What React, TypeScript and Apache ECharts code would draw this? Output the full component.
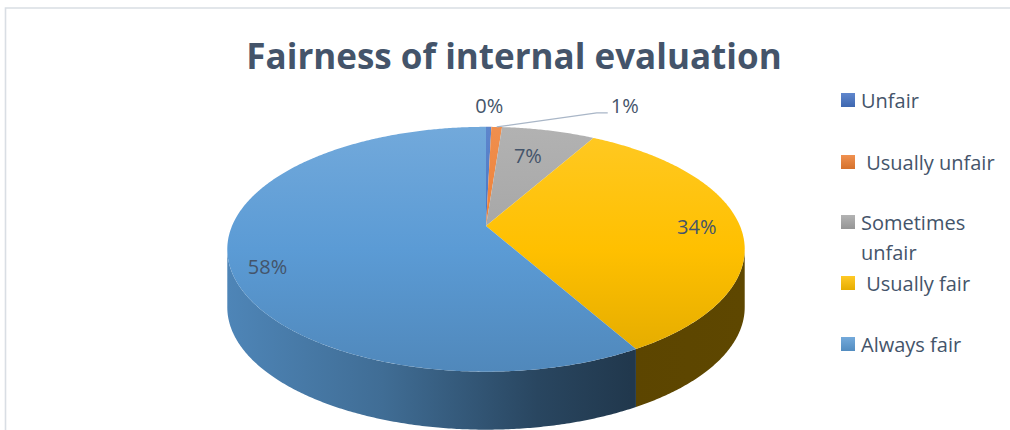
import React, { useEffect, useRef } from "react";
import * as echarts from "echarts";

const TITLE = "Fairness of internal evaluation";
const CATEGORIES = ["Unfair", "Usually unfair", "Sometimes unfair", "Usually fair", "Always fair"];
const LEGEND_LABELS = ["Unfair", " Usually unfair", "Sometimes\nunfair", " Usually fair", "Always fair"];
const VALUES = [0.4, 0.8, 7.0, 33.6, 58.2];
const COLORS = ["#4472C4", "#ED7D31", "#A5A5A5", "#FFC000", "#5B9BD5"];

// geometry of the tilted pie (perspective projection of a flat disc)
const PIE = { cx: 486, cy: 226, a: 254, b: 118, k: 0.19, depth: 58 };
// label placement: angle shift (deg) and radius factor, or leader
const LABEL_LAYOUT = [
  { dTheta: 0, f: 1.27, leader: false },
  { dTheta: 0, f: 1.0, leader: true },
  { dTheta: -1.5, f: 0.7, leader: false },
  { dTheta: 0, f: 0.83, leader: false },
  { dTheta: -7.2, f: 0.87, leader: false },
];
const TEXT_COLOR = "#44546A";
const FONT = "'Open Sans', 'Noto Sans', sans-serif";

const TAU = Math.PI * 2;

function proj(theta: number, f: number): [number, number] {
  const u = f * Math.sin(theta);
  const v = f * Math.cos(theta);
  const w = 1 + PIE.k * v;
  return [PIE.cx + (PIE.a * u) / w, PIE.cy - (PIE.b * v) / w];
}

function arcPts(t1: number, t2: number, dy = 0): number[][] {
  const n = Math.max(2, Math.ceil((t2 - t1) / (Math.PI / 360)));
  const pts: number[][] = [];
  for (let i = 0; i <= n; i++) {
    const t = t1 + ((t2 - t1) * i) / n;
    const p = proj(t, 1);
    pts.push([p[0], p[1] + dy]);
  }
  return pts;
}

function hexRgb(hex: string): number[] {
  const h = hex.replace("#", "");
  return [0, 2, 4].map((i) => parseInt(h.slice(i, i + 2), 16));
}
function scaleC(hex: string, f: number): string {
  const [r, g, b] = hexRgb(hex);
  const c = (x: number) => Math.max(0, Math.min(255, Math.round(x * f)));
  return `rgb(${c(r)},${c(g)},${c(b)})`;
}
function tintC(hex: string, t: number): string {
  const [r, g, b] = hexRgb(hex);
  const c = (x: number) => Math.round(x + (255 - x) * t);
  return `rgb(${c(r)},${c(g)},${c(b)})`;
}

const TOTAL = VALUES.reduce((s, v) => s + v, 0);
const CUM: number[] = [];
VALUES.reduce((s, v, i) => {
  CUM[i] = s;
  return s + v;
}, 0);

export default function App() {
  const ref = useRef<HTMLDivElement>(null);
  useEffect(() => {
    if (!ref.current) return;
    const chart = echarts.init(ref.current, undefined, { renderer: "svg" });

    const topY = proj(0, 1)[1];
    const botY = proj(Math.PI, 1)[1];
    const ext = PIE.a / Math.sqrt(1 - PIE.k * PIE.k);
    const leftX = PIE.cx - ext;
    const rightX = PIE.cx + ext;
    const visA = Math.acos(-PIE.k);
    const visB = TAU - visA;

    const renderItem = (params: any, api: any) => {
      const i = params.dataIndex;
      const val = api.value(0);
      const t1 = (CUM[i] / TOTAL) * TAU;
      const t2 = ((CUM[i] + val) / TOTAL) * TAU;
      const color = COLORS[i];
      const children: any[] = [];

      // side wall
      const s1 = Math.max(t1, visA);
      const s2 = Math.min(t2, visB);
      if (s2 > s1) {
        const top = arcPts(s1, s2, 0);
        const bot = arcPts(s1, s2, PIE.depth).reverse();
        children.push({
          type: "polygon",
          shape: { points: top.concat(bot) },
          style: {
            fill: new echarts.graphic.LinearGradient(
              leftX,
              0,
              rightX,
              0,
              [
                { offset: 0, color: scaleC(color, 0.86) },
                { offset: 0.3, color: scaleC(color, 0.7) },
                { offset: 0.6, color: scaleC(color, 0.45) },
                { offset: 0.78, color: scaleC(color, 0.36) },
                { offset: 1, color: scaleC(color, 0.37) },
              ],
              true
            ),
            stroke: null,
          },
        });
      }

      // top face
      const pts = [[PIE.cx, PIE.cy]].concat(arcPts(t1, t2, 0));
      children.push({
        type: "polygon",
        shape: { points: pts },
        style: {
          fill: new echarts.graphic.LinearGradient(
            0,
            topY,
            0,
            botY,
            [
              { offset: 0, color: tintC(color, 0.14) },
              { offset: 0.5, color: color },
              { offset: 1, color: scaleC(color, 0.88) },
            ],
            true
          ),
          stroke: null,
        },
      });

      // label
      const pct = Math.round((val / TOTAL) * 100) + "%";
      const lay = LABEL_LAYOUT[i];
      const mid = (t1 + t2) / 2 + (lay.dTheta * Math.PI) / 180;
      if (lay.leader) {
        const p0 = proj(mid, 1.0);
        const p1 = [p0[0] + 100, p0[1] - 14];
        const p2 = [p1[0] + 11, p1[1]];
        children.push({
          type: "polyline",
          shape: { points: [p0, p1, p2] },
          style: { stroke: "#A9B6C7", lineWidth: 1.3, fill: null },
        });
        children.push({
          type: "text",
          x: p2[0] + 3,
          y: p2[1] - 7,
          style: {
            text: pct,
            fill: TEXT_COLOR,
            fontSize: 20,
            fontFamily: FONT,
            align: "left",
            verticalAlign: "middle",
            textAlign: "left",
            textVerticalAlign: "middle",
          },
        });
      } else {
        const p = proj(mid, lay.f);
        children.push({
          type: "text",
          x: p[0],
          y: p[1],
          style: {
            text: pct,
            fill: TEXT_COLOR,
            fontSize: 20,
            fontFamily: FONT,
            align: "center",
            verticalAlign: "middle",
            textAlign: "center",
            textVerticalAlign: "middle",
          },
        });
      }
      return { type: "group", children };
    };

    // legend (graphic)
    const LEG_X = 841;
    const LEG_Y = [100, 162, 222, 283, 344];
    const legend: any[] = [];
    CATEGORIES.forEach((_, i) => {
      legend.push({
        type: "rect",
        shape: { x: LEG_X, y: LEG_Y[i] - 7, width: 14, height: 14 },
        style: {
          fill: new echarts.graphic.LinearGradient(0, 0, 0, 1, [
            { offset: 0, color: tintC(COLORS[i], 0.15) },
            { offset: 1, color: scaleC(COLORS[i], 0.9) },
          ]),
        },
      });
      legend.push({
        type: "text",
        x: LEG_X + 20,
        y: i === 2 ? LEG_Y[i] - 15 : LEG_Y[i],
        style: {
          text: LEGEND_LABELS[i],
          fill: TEXT_COLOR,
          fontSize: 20,
          fontFamily: FONT,
          lineHeight: 30,
          align: "left",
          verticalAlign: i === 2 ? "top" : "middle",
          textAlign: "left",
          textVerticalAlign: i === 2 ? "top" : "middle",
        },
      });
    });

    chart.setOption({
      animation: false,
      backgroundColor: "#ffffff",
      graphic: [
        {
          type: "rect",
          shape: { x: 5.5, y: 8, width: 1100, height: 500 },
          style: { fill: "none", stroke: "#D9DEE4", lineWidth: 1.6 },
          silent: true,
        },
        {
          type: "text",
          x: 514,
          y: 55,
          style: {
            text: TITLE,
            fill: TEXT_COLOR,
            fontSize: 35,
            fontWeight: "bold",
            fontFamily: "'Open Sans', 'Noto Sans', sans-serif",
            align: "center",
            verticalAlign: "middle",
            textAlign: "center",
            textVerticalAlign: "middle",
          },
        },
        ...legend,
      ],
      series: [
        {
          type: "custom",
          coordinateSystem: "none",
          renderItem,
          data: VALUES.map((v, i) => ({ name: CATEGORIES[i], value: v })),
        },
      ],
    });
    return () => chart.dispose();
  }, []);
  return (
    <div
      ref={ref}
      style={{ position: "fixed", left: 0, top: 0, width: 1010, height: 430 }}
    />
  );
}
